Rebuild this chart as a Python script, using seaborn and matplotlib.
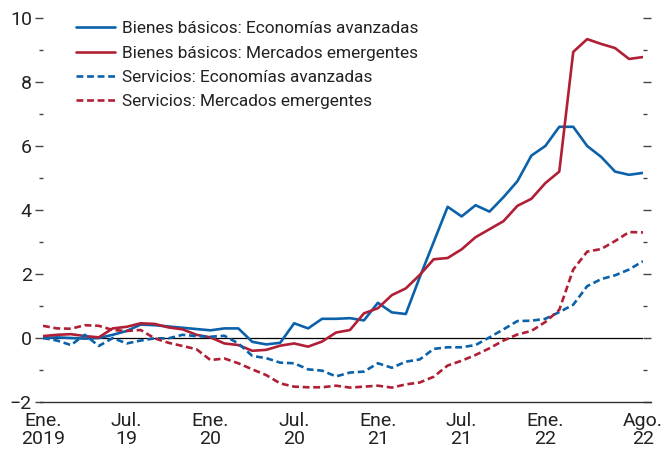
import numpy as np
import pandas as pd
import matplotlib
matplotlib.use("Agg")
import matplotlib.pyplot as plt
import seaborn as sns
from matplotlib.ticker import MultipleLocator

# Monthly data Jan 2019 - Aug 2022 (44 months)
months = pd.date_range("2019-01-01", "2022-08-01", freq="MS")
bienes_ea = [0.0, 0.02, 0.0, -0.02, 0.0, 0.1, 0.22, 0.42, 0.4, 0.36, 0.32, 0.28,
             0.24, 0.3, 0.3, -0.12, -0.2, -0.15, 0.46, 0.3, 0.6, 0.6, 0.62, 0.55,
             1.1, 0.8, 0.75, 1.9, 3.0, 4.1, 3.8, 4.15, 3.95, 4.4, 4.9, 5.7,
             6.0, 6.6, 6.6, 6.0, 5.66, 5.2, 5.1, 5.16]
bienes_me = [0.06, 0.1, 0.12, 0.06, 0.02, 0.3, 0.35, 0.46, 0.44, 0.33, 0.27, 0.1,
             0.02, -0.17, -0.22, -0.4, -0.37, -0.24, -0.17, -0.27, -0.11, 0.17, 0.25, 0.77,
             0.93, 1.34, 1.55, 1.97, 2.46, 2.5, 2.77, 3.15, 3.4, 3.65, 4.13, 4.35,
             4.84, 5.2, 8.94, 9.34, 9.19, 9.06, 8.72, 8.78]
serv_ea = [0.0, -0.08, -0.22, 0.1, -0.25, 0.0, -0.17, -0.08, -0.01, -0.01, 0.1, 0.06,
           0.04, 0.07, -0.17, -0.56, -0.63, -0.77, -0.79, -0.98, -1.02, -1.2, -1.08, -1.05,
           -0.79, -0.93, -0.74, -0.67, -0.34, -0.29, -0.29, -0.22, 0.02, 0.27, 0.53, 0.54,
           0.6, 0.81, 1.04, 1.62, 1.84, 1.96, 2.14, 2.4]
serv_me = [0.38, 0.3, 0.29, 0.4, 0.38, 0.25, 0.22, 0.25, -0.01, -0.15, -0.25, -0.35,
           -0.69, -0.64, -0.79, -0.98, -1.16, -1.42, -1.52, -1.54, -1.54, -1.49, -1.55, -1.52,
           -1.49, -1.55, -1.45, -1.39, -1.21, -0.86, -0.71, -0.53, -0.32, -0.08, 0.11, 0.22,
           0.5, 0.88, 2.14, 2.7, 2.78, 3.03, 3.31, 3.3]

series_names = ["Bienes básicos: Economías avanzadas",
                "Bienes básicos: Mercados emergentes",
                "Servicios: Economías avanzadas",
                "Servicios: Mercados emergentes"]
tick_pos = [0, 6, 12, 18, 24, 30, 36, 43]
tick_labels = ["Ene.\n2019", "Jul.\n19", "Ene.\n20", "Jul.\n20",
               "Ene.\n21", "Jul.\n21", "Ene.\n22", "Ago.\n22"]

idx = np.arange(len(months))
df = pd.DataFrame({
    "m": np.tile(idx, 4),
    "v": bienes_ea + bienes_me + serv_ea + serv_me,
    "serie": np.repeat(series_names, len(idx)),
})

sns.set_theme(style="white")
plt.rcParams["font.family"] = ["Roboto", "DejaVu Sans"]
plt.rcParams["axes.unicode_minus"] = True

BLUE = "#0B62AA"
RED = "#B01F35"

fig = plt.figure(figsize=(6.65, 4.54), dpi=100)
ax = fig.add_axes([43 / 665, 1 - 402 / 454, 600 / 665, 384 / 454])

ax.axhline(0, color="black", lw=0.9, zorder=1)

palette = {series_names[0]: BLUE, series_names[1]: RED,
           series_names[2]: BLUE, series_names[3]: RED}
dashes = {series_names[0]: "", series_names[1]: "",
          series_names[2]: (2.6, 1.4), series_names[3]: (2.6, 1.4)}
sns.lineplot(data=df, x="m", y="v", hue="serie", style="serie",
             palette=palette, dashes=dashes, hue_order=series_names,
             style_order=series_names, lw=1.9, ax=ax, zorder=3)

ax.set_xlim(0, 43)
ax.set_ylim(-2, 10)
ax.set_xlabel("")
ax.set_ylabel("")

for s in ["left", "right", "top"]:
    ax.spines[s].set_visible(False)
ax.spines["bottom"].set_color("#333333")
ax.spines["bottom"].set_linewidth(1.0)
ax.spines["bottom"].set_bounds(-0.2, 43.6)

ax.set_xticks(tick_pos)
ax.set_xticklabels(tick_labels, fontsize=14, color="#222222", linespacing=1.05)
ax.tick_params(axis="x", direction="in", length=6, width=1.0, color="#333333", pad=7)

ax.yaxis.set_major_locator(MultipleLocator(2))
ax.yaxis.set_minor_locator(MultipleLocator(1))
ax.set_yticks([-2, 0, 2, 4, 6, 8, 10])
ax.set_yticklabels(["\u22122", "0", "2", "4", "6", "8", "10"], fontsize=14, color="#222222")
ax.tick_params(axis="y", which="major", direction="out", length=6, width=1.0,
               color="#444444", left=True, right=True, labelright=False, pad=2)
ax.tick_params(axis="y", which="minor", direction="out", length=3, width=1.0,
               color="#444444", left=True, right=True)

leg = ax.legend(loc="upper left", bbox_to_anchor=(0.043, 1.009), frameon=False,
                fontsize=12.4, handlelength=2.3, handletextpad=0.4,
                labelspacing=0.53, borderaxespad=0)
for t in leg.get_texts():
    t.set_color("#222222")

fig.savefig("out.png", dpi=100)
